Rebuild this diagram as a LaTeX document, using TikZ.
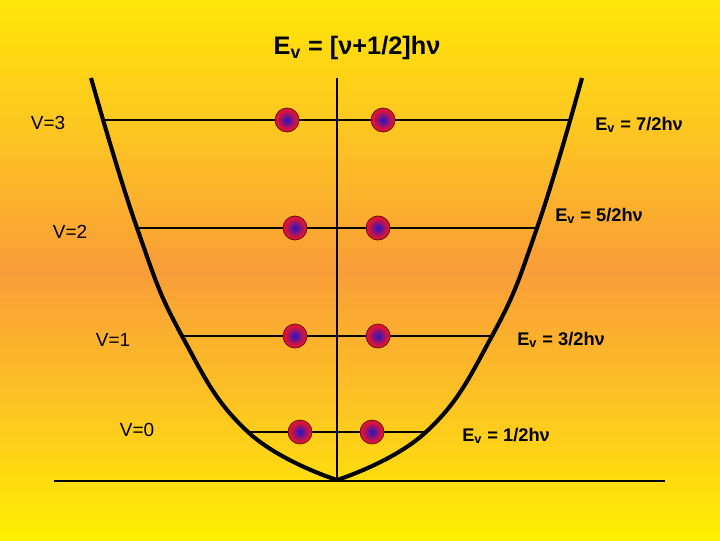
\documentclass[tikz,border=0pt]{standalone}
\usepackage{fontspec}
\setmainfont{Liberation Sans}
\definecolor{ytop}{RGB}{255,230,8}
\definecolor{ymid}{RGB}{253,196,34}
\definecolor{orng}{RGB}{249,157,56}
\definecolor{ybot}{RGB}{255,240,0}
\definecolor{ballin}{RGB}{35,20,200}
\definecolor{ballout}{RGB}{220,20,55}
\definecolor{ballrim}{RGB}{90,15,15}
\pgfdeclareradialshading{ballshade}{\pgfpoint{0bp}{0bp}}{color(0bp)=(ballin); color(7bp)=(ballin!65!ballout); color(20bp)=(ballout); color(25bp)=(ballout); color(50bp)=(ballout)}
\pgfdeclareverticalshading{bgshade}{100bp}{color(0bp)=(ybot); color(25bp)=(ybot); color(37.5bp)=(ymid); color(50bp)=(orng); color(62.5bp)=(ymid); color(75bp)=(ytop); color(100bp)=(ytop)}
\begin{document}
\begin{tikzpicture}[x=0.025cm,y=-0.025cm,
  lvl/.style={line width=0.75pt},
  well/.style={line width=2.9pt, line join=miter},
  ball/.style={circle, minimum size=0.6cm, inner sep=0pt, draw=ballrim, line width=0.5pt, shading=ballshade},
  vlab/.style={font=\fontsize{13.5}{16}\selectfont, inner sep=0pt},
  elab/.style={font=\bfseries\fontsize{13}{16}\selectfont, inner sep=0pt, anchor=west},
  ttl/.style={font=\bfseries\fontsize{18}{22}\selectfont, inner sep=0pt}]
\useasboundingbox (0,0) rectangle (720,540);
\shade[shading=bgshade] (0,0) rectangle (720,540);

\node[ttl] (title) at (357,48) {E\textsubscript{v} = [ν+1/2]hν};

% axes
\coordinate (axtop) at (337,78);
\coordinate (axbot) at (337,479);
\coordinate (bl) at (54,481);
\coordinate (br) at (665,481);
\draw[lvl] (axtop) -- (axbot);
\draw[lvl] (bl) -- (br);

% level end points on the well
\coordinate (L3) at (102,120); \coordinate (R3) at (572,120);
\coordinate (L2) at (137,228); \coordinate (R2) at (537,228);
\coordinate (L1) at (182,336); \coordinate (R1) at (492,336);
\coordinate (L0) at (248,432); \coordinate (R0) at (426,432);
\draw[lvl] (L3) -- (R3);
\draw[lvl] (L2) -- (R2);
\draw[lvl] (L1) -- (R1);
\draw[lvl] (L0) -- (R0);

% potential well
\draw[well] plot[smooth, tension=0.75] coordinates {(91,78) (137,228) (182,336) (248,432) (337,480)}
  -- plot[smooth, tension=0.75] coordinates {(337,480) (426,432) (492,336) (537,228) (582,78)};

% balls
\node[ball] (b3a) at (287,120) {}; \node[ball] (b3b) at (383,120) {};
\node[ball] (b2a) at (295,228) {}; \node[ball] (b2b) at (378,228) {};
\node[ball] (b1a) at (295,336) {}; \node[ball] (b1b) at (378,336) {};
\node[ball] (b0a) at (300,432) {}; \node[ball] (b0b) at (372,432) {};

% labels
\node[vlab] (v3) at (48,123) {V=3};
\node[vlab] (v2) at (70,232) {V=2};
\node[vlab] (v1) at (113,340) {V=1};
\node[vlab] (v0) at (137,430) {V=0};
\node[elab] (e3) at (595,125) {E\textsubscript{v} = 7/2hν};
\node[elab] (e2) at (555,216) {E\textsubscript{v} = 5/2hν};
\node[elab] (e1) at (517,340) {E\textsubscript{v} = 3/2hν};
\node[elab] (e0) at (462,436) {E\textsubscript{v} = 1/2hν};
\end{tikzpicture}
\end{document}
